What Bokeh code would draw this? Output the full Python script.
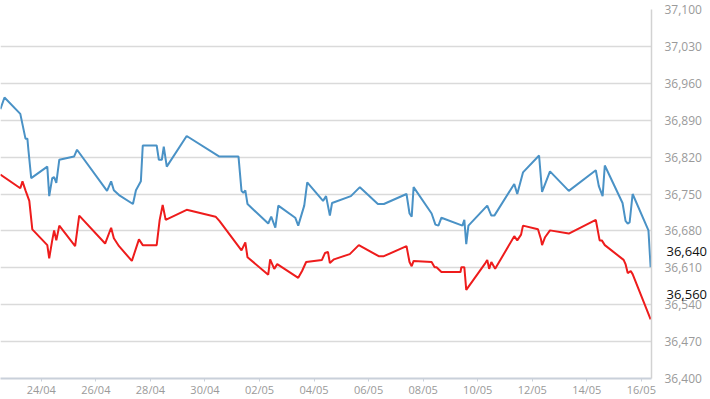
import pandas as pd
from bokeh.plotting import figure
from bokeh.models import (Range1d, FixedTicker, NumeralTickFormatter, DatetimeTickFormatter,
                          LinearAxis)
from bokeh.embed import file_html
from bokeh.resources import INLINE

# ---- data (days since 2024-04-24 00:00, value) ----
BASE = "2024-04-24"
blue_days = [-1.50, -1.35, -0.77, -0.58, -0.51, -0.47, -0.37, 0.22, 0.29, 0.40, 0.47, 0.55, 0.66,
             1.20, 1.31, 2.41, 2.56, 2.66, 2.85, 3.36, 3.47, 3.65, 3.72, 4.23, 4.31, 4.42, 4.49,
             4.60, 5.33, 6.53, 7.23, 7.34, 7.41, 7.48, 7.56, 8.32, 8.43, 8.58, 8.69, 9.31, 9.42,
             9.64, 9.75, 10.33, 10.44, 10.58, 10.66, 11.35, 11.68, 12.34, 12.56, 13.39, 13.50,
             13.58, 13.65, 14.31, 14.45, 14.56, 14.67, 15.44, 15.51, 15.58, 15.66, 16.35, 16.50,
             16.61, 17.34, 17.45, 17.66, 18.25, 18.36, 18.65, 19.34, 20.33, 20.44, 20.58, 20.66,
             21.31, 21.42, 21.50, 21.57, 21.68, 22.26, 22.34]
blue_vals = [36911, 36933, 36902, 36855, 36855, 36832, 36780, 36802, 36746, 36780, 36782, 36771, 36815,
             36821, 36834, 36756, 36774, 36757, 36748, 36731, 36757, 36774, 36842, 36842, 36815, 36815, 36840,
             36802, 36860, 36821, 36821, 36756, 36752, 36757, 36731, 36694, 36707, 36686, 36728, 36705, 36690,
             36728, 36772, 36737, 36746, 36709, 36733, 36746, 36763, 36731, 36731, 36750, 36713,
             36707, 36763, 36713, 36692, 36690, 36705, 36690, 36701, 36655, 36690, 36728, 36709,
             36709, 36769, 36750, 36791, 36823, 36754, 36793, 36756, 36795, 36765, 36746, 36804,
             36733, 36699, 36694, 36696, 36750, 36681, 36611]

red_days = [-1.50, -0.77, -0.69, -0.58, -0.44, -0.33, 0.22, 0.29, 0.40, 0.47, 0.55, 0.66, 1.24, 1.39,
            2.34, 2.56, 2.66, 2.85, 3.32, 3.58, 3.72, 4.23, 4.34, 4.45, 4.56, 5.33, 6.39, 6.53,
            7.34, 7.48, 7.56, 8.32, 8.39, 8.54, 8.65, 9.42, 9.56, 9.71, 10.29, 10.40, 10.51, 10.58,
            10.73, 11.31, 11.64, 12.37, 12.56, 13.39, 13.50, 13.58, 13.65, 14.31, 14.42, 14.49,
            14.67, 15.37, 15.40, 15.51, 15.58, 16.28, 16.35, 16.42, 16.50, 16.64, 17.34, 17.45,
            17.59, 17.66, 18.21, 18.32, 18.36, 18.47, 18.65, 19.34, 20.33, 20.47, 20.55, 20.66,
            21.35, 21.42, 21.50, 21.61, 21.68, 22.34]
red_vals = [36787, 36761, 36774, 36757, 36737, 36683, 36653, 36628, 36662, 36681, 36662, 36690, 36651, 36709,
            36656, 36686, 36666, 36651, 36623, 36664, 36653, 36653, 36701, 36729, 36701, 36720, 36707, 36699,
            36643, 36658, 36630, 36597, 36626, 36608, 36617, 36591, 36604, 36621, 36625, 36638, 36640, 36619,
            36626, 36636, 36653, 36632, 36632, 36651, 36621, 36613, 36623, 36621, 36611, 36611,
            36602, 36602, 36611, 36611, 36568, 36619, 36625, 36608, 36621, 36608, 36670, 36662,
            36673, 36690, 36683, 36664, 36653, 36668, 36681, 36675, 36701, 36662, 36662, 36653,
            36625, 36617, 36600, 36604, 36598, 36512]

y_ticks = [36400, 36470, 36540, 36610, 36680, 36750, 36820, 36890, 36960, 37030, 37100]
x_tick_dates = ["2024-04-22", "2024-04-24", "2024-04-26", "2024-04-28", "2024-04-30", "2024-05-02",
                "2024-05-04", "2024-05-06", "2024-05-08", "2024-05-10", "2024-05-12", "2024-05-14",
                "2024-05-16"]
marker_values = [36640, 36560]
marker_labels = ["36,640", "36,560"]

base = pd.Timestamp(BASE)
bx = base + pd.to_timedelta(blue_days, unit="D")
rx = base + pd.to_timedelta(red_days, unit="D")

x_start = base + pd.Timedelta(days=-1.496)
x_end = base + pd.Timedelta(days=22.372)

p = figure(width=710, height=399, x_axis_type="datetime", y_axis_location="right",
           output_backend="svg", toolbar_location=None,
           x_range=Range1d(x_start, x_end), y_range=Range1d(36400, 37100),
           min_border_left=0, min_border_right=56, min_border_top=9, min_border_bottom=0)
p.outline_line_color = None
p.background_fill_color = "white"
p.border_fill_color = "white"

p.line(bx, blue_vals, line_color="#4a92c6", line_width=2)
p.line(rx, red_vals, line_color="#ee1c1c", line_width=2)

# grids
p.xgrid.visible = False
p.ygrid.grid_line_color = "#dadada"
p.ygrid.grid_line_width = 1.5

# y axis (right)
ya = p.yaxis[0]
ya.ticker = FixedTicker(ticks=y_ticks)
ya.formatter = NumeralTickFormatter(format="0,0")
ya.axis_line_color = "#d2d2d2"
ya.axis_line_width = 1.5
ya.major_tick_line_color = None
ya.major_tick_in = 0
ya.major_tick_out = 0
ya.minor_tick_line_color = None
ya.major_label_standoff = 13
ya.major_label_text_color = "#9a9a9a"
ya.major_label_text_font = "Open Sans"
ya.major_label_text_font_size = "12px"
ya.axis_label_standoff = 0

# current-value labels: a second right axis pulled back over the first one's label column
mk = LinearAxis(ticker=FixedTicker(ticks=marker_values),
                major_label_overrides=dict(zip(marker_values, marker_labels)))
mk.axis_line_color = None
mk.major_tick_line_color = None
mk.minor_tick_line_color = None
mk.major_tick_in = 0
mk.major_tick_out = 0
mk.major_label_standoff = -38
mk.axis_label_standoff = 0
mk.major_label_text_color = "#111111"
mk.major_label_text_font = "Open Sans"
mk.major_label_text_font_size = "13px"
p.add_layout(mk, "right")

# x axis
xa = p.xaxis[0]
xa.ticker = FixedTicker(ticks=[pd.Timestamp(d).value // 10**6 for d in x_tick_dates])
xa.formatter = DatetimeTickFormatter(days="%d/%m", months="%d/%m", hours="%d/%m")
xa.axis_line_color = "#c9d0da"
xa.axis_line_width = 2
xa.major_tick_line_color = "#c9d0da"
xa.major_tick_in = 0
xa.major_tick_out = 3
xa.minor_tick_line_color = None
xa.major_label_standoff = 0
xa.axis_label_standoff = 0
xa.major_label_text_color = "#9a9a9a"
xa.major_label_text_font = "Open Sans"
xa.major_label_text_font_size = "11px"

open("out.html", "w").write(file_html(p, INLINE))
